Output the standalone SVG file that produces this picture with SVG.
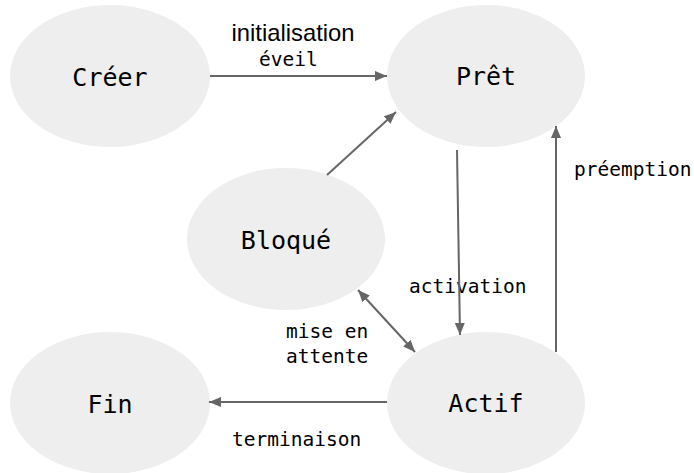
<svg xmlns="http://www.w3.org/2000/svg" width="694" height="473" viewBox="0 0 694 473">
<style>
.node{fill:#eeeeee;}
.nt{font-family:"DejaVu Sans Mono","Liberation Mono",monospace;font-size:25px;fill:#000;text-anchor:middle;}
.lbl{font-family:"DejaVu Sans Mono","Liberation Mono",monospace;font-size:19.5px;fill:#000;}
.lbl2{font-family:"Liberation Sans",Arial,sans-serif;font-size:23.8px;fill:#000;text-anchor:middle;}
.edge{stroke:#666666;stroke-width:2;fill:none;}
</style>
<defs>
<marker id="ah" viewBox="0 0 12 10" refX="12" refY="5" markerWidth="12" markerHeight="10" markerUnits="userSpaceOnUse" orient="auto-start-reverse">
<path d="M0,0 L12,5 L0,10 z" fill="#666666"/>
</marker>
</defs>
<rect width="694" height="473" fill="#ffffff"/>
<g id="node-creer"><ellipse class="node" cx="110" cy="76" rx="100" ry="71"/><text class="nt" x="110" y="86">Créer</text></g>
<g id="node-pret"><ellipse class="node" cx="486" cy="76" rx="99" ry="71"/><text class="nt" x="486" y="85">Prêt</text></g>
<g id="node-bloque"><ellipse class="node" cx="286" cy="239" rx="99" ry="71"/><text class="nt" x="286" y="249">Bloqué</text></g>
<g id="node-fin"><ellipse class="node" cx="110" cy="403" rx="100" ry="71"/><text class="nt" x="110" y="413">Fin</text></g>
<g id="node-actif"><ellipse class="node" cx="486" cy="403" rx="99" ry="71"/><text class="nt" x="486" y="412">Actif</text></g>
<g id="labels">
<text class="lbl2" x="293" y="41">initialisation</text>
<text class="lbl" x="259" y="66">éveil</text>
<text class="lbl" x="574" y="176">préemption</text>
<text class="lbl" x="409" y="293">activation</text>
<text class="lbl" x="286" y="338">mise en</text>
<text class="lbl" x="286" y="363">attente</text>
<text class="lbl" x="232" y="446">terminaison</text>
</g>
<g id="connectors">
<line class="edge" x1="210" y1="76" x2="387" y2="76" marker-end="url(#ah)"/>
<line class="edge" x1="327" y1="175" x2="396" y2="112" marker-end="url(#ah)"/>
<line class="edge" x1="457" y1="150" x2="460" y2="335" marker-end="url(#ah)"/>
<line class="edge" x1="556" y1="352" x2="556" y2="126" marker-end="url(#ah)"/>
<line class="edge" x1="358" y1="290" x2="415" y2="352" marker-start="url(#ah)" marker-end="url(#ah)"/>
<line class="edge" x1="387" y1="402" x2="209" y2="402" marker-end="url(#ah)"/>
</g>
</svg>
